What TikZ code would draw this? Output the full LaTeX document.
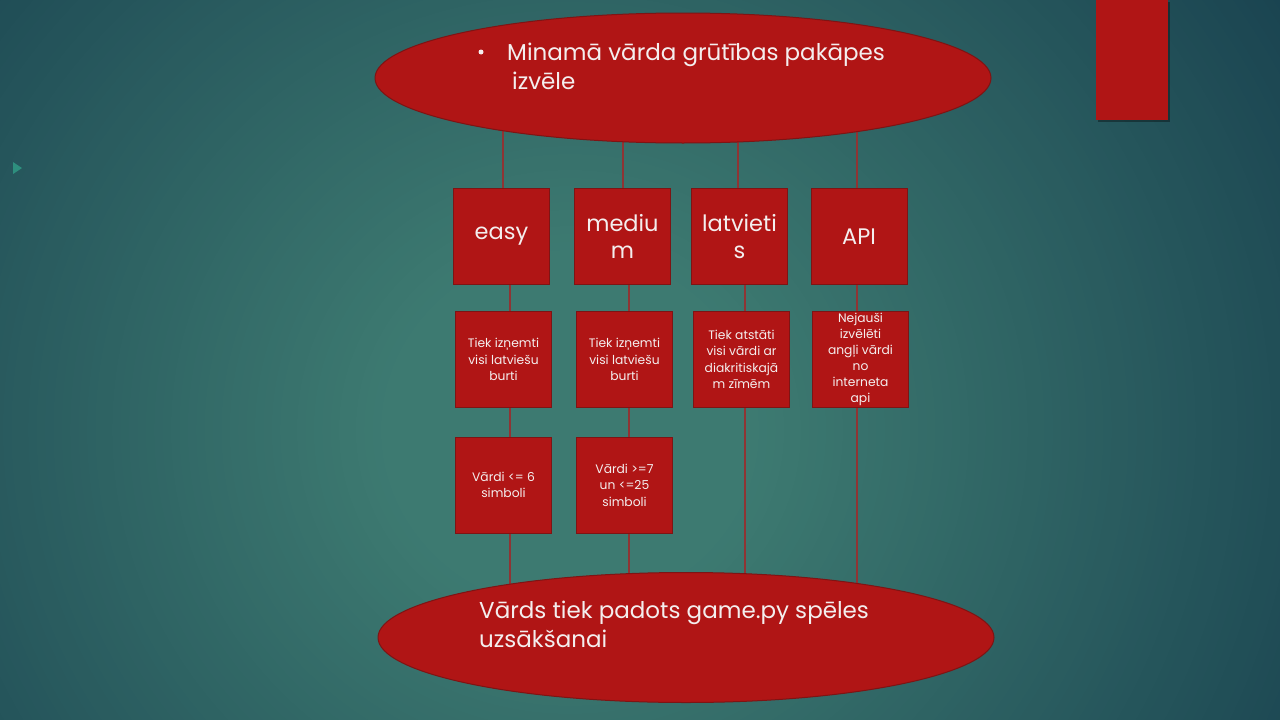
\documentclass[tikz,border=0pt]{standalone}
\usepackage{fontspec}
\setmainfont{Poppins}
\usetikzlibrary{shapes.geometric,calc,shadows}
\definecolor{boxred}{HTML}{B01515}
\definecolor{boxedge}{HTML}{7E1414}
\definecolor{linecol}{HTML}{8F3434}
\definecolor{txt}{HTML}{F4EEEE}
\definecolor{bgin}{HTML}{3D7A71}
\definecolor{bgout}{HTML}{153C4C}
\definecolor{arrowgreen}{HTML}{2E8F7E}
\pgfdeclarelayer{bg}
\pgfdeclarelayer{lines}
\pgfsetlayers{bg,lines,main}
\tikzset{
  redfill/.style={fill=boxred, draw=boxedge, line width=1pt},
  bigbox/.style={redfill, minimum width=96pt, minimum height=96pt, inner sep=2pt, align=center, text=txt, font=\fontsize{22.5}{27}\selectfont},
  smallbox/.style={redfill, minimum width=96pt, minimum height=96pt, inner sep=2pt, align=center, text=txt, font=\fontsize{12.3}{16.5}\selectfont},
  oval/.style={redfill, ellipse, minimum width=616pt, minimum height=130pt, inner sep=0pt},
  ovaltext/.style={text=txt, font=\fontsize{23}{29}\selectfont, anchor=base west, inner sep=0pt, align=left},
  conn/.style={draw=linecol, line width=1.1pt},
  dropshadow/.style={drop shadow={shadow xshift=2pt, shadow yshift=-2pt, opacity=0.35, fill=black}}
}
\begin{document}
\begin{tikzpicture}[x=1pt,y=-1pt]
\useasboundingbox (0,0) rectangle (1280,720);
\begin{pgfonlayer}{bg}
  \begin{scope}
    \clip (0,0) rectangle (1280,720);
    \fill[bgout] (0,0) rectangle (1280,720);
    \foreach \i in {0,...,90}{
      \pgfmathsetmacro\rr{900-\i*8}
      \pgfmathsetmacro\pp{min(100,\i/90*100)}
      \fill[bgin!\pp!bgout] (570,430) ellipse ({\rr*1.05} and {\rr});
    }
  \end{scope}
  \fill[arrowgreen] (13,162) -- (22,168) -- (13,174) -- cycle;
\end{pgfonlayer}

% top-right bar
\node[fill=boxred, draw=none, minimum width=72pt, minimum height=120pt, inner sep=0pt, anchor=north west, dropshadow] (bar) at (1096,0) {};

% ellipses
\node[oval] (top) at (683,78) {};
\node[ovaltext] (toptext) at (507,89) {Minamā vārda grūtības pakāpes\\\hspace*{5pt}izvēle};
\node[circle, fill=txt, minimum size=5pt, inner sep=0pt] (bullet) at (481,52) {};

\node[oval] (bot) at (686,637.5) {};
\node[ovaltext] (bottext) at (479,647) {Vārds tiek padots game.py spēles\\uzsākšanai};

% row 1
\node[bigbox] (easy) at (501.5,236.5) {easy};
\node[bigbox] (medium) at (622.5,236.5) {mediu\\m};
\node[bigbox] (latv) at (739.5,236.5) {latvieti\\s};
\node[bigbox] (api) at (859,236.5) {API};

% row 2
\node[smallbox] (e2) at (503.5,359.5) {Tiek izņemti\\visi latviešu\\burti};
\node[smallbox] (m2) at (624.5,359.5) {Tiek izņemti\\visi latviešu\\burti};
\node[smallbox] (l2) at (741.5,359.5) {Tiek atstāti\\visi vārdi ar\\diakritiskajā\\m zīmēm};
\node[smallbox, font=\fontsize{12.3}{16}\selectfont] (a2) at (860.5,359.5) {Nejauši\\izvēlēti\\angļi vārdi\\no\\interneta\\api};

% row 3
\node[smallbox] (e3) at (503.5,485) {Vārdi <= 6\\simboli};
\node[smallbox] (m3) at (624.5,485) {Vārdi >=7\\un <=25\\simboli};

\begin{pgfonlayer}{lines}
  % top ellipse to row 1
  \draw[conn] ([xshift=1.5pt]easy.north) -- ([xshift=1.5pt]easy.north |- top.center);
  \draw[conn] ([xshift=0.5pt]medium.north) -- ([xshift=0.5pt]medium.north |- top.center);
  \draw[conn] ([xshift=-1.5pt]latv.north) -- ([xshift=-1.5pt]latv.north |- top.center);
  \draw[conn] ([xshift=-2pt]api.north) -- ([xshift=-2pt]api.north |- top.center);
  % row 1 to row 2
  \draw[conn] ([xshift=8.5pt]easy.south) -- ([xshift=6.5pt]e2.north);
  \draw[conn] ([xshift=6.5pt]medium.south) -- ([xshift=4.5pt]m2.north);
  \draw[conn] ([xshift=5.5pt]latv.south) -- ([xshift=3.5pt]l2.north);
  \draw[conn] ([xshift=-2pt]api.south) -- ([xshift=-3.5pt]a2.north);
  % row 2 to row 3
  \draw[conn] ([xshift=6.5pt]e2.south) -- ([xshift=6.5pt]e3.north);
  \draw[conn] ([xshift=4.5pt]m2.south) -- ([xshift=4.5pt]m3.north);
  % to bottom ellipse
  \draw[conn] ([xshift=6.5pt]e3.south) -- ([xshift=6.5pt]e3.south |- bot.center);
  \draw[conn] ([xshift=4.5pt]m3.south) -- ([xshift=4.5pt]m3.south |- bot.center);
  \draw[conn] ([xshift=3.5pt]l2.south) -- ([xshift=3.5pt]l2.south |- bot.center);
  \draw[conn] ([xshift=-3.5pt]a2.south) -- ([xshift=-3.5pt]a2.south |- bot.center);
\end{pgfonlayer}
\end{tikzpicture}
\end{document}
